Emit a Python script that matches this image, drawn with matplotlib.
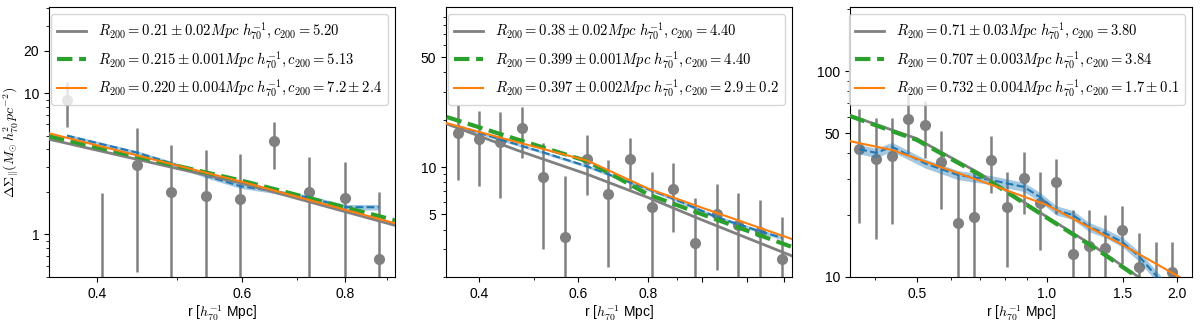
import matplotlib
matplotlib.use("Agg")
import matplotlib.pyplot as plt
from matplotlib.ticker import NullFormatter
import numpy as np

plt.rcParams['font.family'] = ['Liberation Sans', 'DejaVu Sans']
plt.rcParams['mathtext.fontset'] = 'cm'
plt.rcParams['font.size'] = 10

# ---- panel 1 ----
p1_r = [0.368, 0.406, 0.447, 0.492, 0.543, 0.597, 0.657, 0.724, 0.801, 0.879]
p1_y = [8.9, 0.3, 3.09, 1.99, 1.86, 1.77, 4.57, 1.99, 1.80, 0.665]
p1_err = [3.15, 1.65, 2.55, 2.29, 2.08, 1.92, 1.67, 1.53, 1.44, 1.32]
p1_blue_r = [0.368, 0.406, 0.447, 0.492, 0.543, 0.597, 0.657, 0.724, 0.801, 0.879]
p1_blue = [5.0, 4.35, 3.8, 3.2, 2.6, 2.2, 2.02, 1.82, 1.56, 1.56]
p1_blue_err = [0.15, 0.13, 0.12, 0.1, 0.09, 0.08, 0.07, 0.07, 0.07, 0.07]
p1_model_r = [0.35, 0.6, 0.92]
p1_gray = [4.72, 2.30, 1.16]
p1_green = [4.95, 2.40, 1.26]
p1_orange = [5.2, 2.36, 1.2]
p1_labels = [r'$R_{200} = 0.21 \pm 0.02 Mpc\ h_{70}^{-1}, c_{200} = 5.20$',
             r'$R_{200} = 0.215 \pm 0.001 Mpc\ h_{70}^{-1}, c_{200} = 5.13$',
             r'$R_{200} = 0.220 \pm 0.004 Mpc\ h_{70}^{-1}, c_{200} = 7.2 \pm 2.4$']

# ---- panel 2 ----
p2_r = [0.366, 0.400, 0.436, 0.477, 0.520, 0.569, 0.623, 0.679, 0.743, 0.813,
        0.887, 0.970, 1.061, 1.158, 1.268, 1.387]
p2_y = [16.5, 15.1, 14.4, 17.7, 8.6, 3.58, 11.3, 6.73, 11.3, 5.56,
        7.24, 3.28, 5.0, 4.27, 3.86, 2.59]
p2_err = [8.2, 7.5, 8.0, 6.3, 5.6, 5.2, 4.7, 4.4, 4.1, 3.7,
          3.4, 3.1, 2.8, 2.55, 2.3, 2.2]
p2_blue_r = [0.366, 0.436, 0.520, 0.623, 0.743, 0.887, 1.061, 1.268, 1.387]
p2_blue = [18.2, 15.0, 12.4, 10.1, 8.0, 6.3, 4.8, 3.9, 3.55]
p2_blue_err = [0.4, 0.3, 0.25, 0.22, 0.18, 0.15, 0.12, 0.1, 0.1]
p2_model_r = [0.35, 0.467, 0.623, 0.8, 1.0, 1.45]
p2_gray = [18.8, 12.8, 9.0, 6.4, 4.6, 2.71]
p2_green = [20.8, 15.0, 10.9, 6.7, 5.0, 3.09]
p2_orange = [19.0, 14.4, 11.0, 7.3, 5.5, 3.47]
p2_labels = [r'$R_{200} = 0.38 \pm 0.02 Mpc\ h_{70}^{-1}, c_{200} = 4.40$',
             r'$R_{200} = 0.399 \pm 0.001 Mpc\ h_{70}^{-1}, c_{200} = 4.40$',
             r'$R_{200} = 0.397 \pm 0.002 Mpc\ h_{70}^{-1}, c_{200} = 2.9 \pm 0.2$']

# ---- panel 3 ----
p3_r = [0.368, 0.402, 0.438, 0.478, 0.523, 0.570, 0.623, 0.679, 0.742, 0.809,
        0.885, 0.963, 1.052, 1.151, 1.253, 1.367, 1.496, 1.636, 1.788, 1.954]
p3_y = [41.8, 37.3, 38.6, 58.5, 54.7, 36.3, 18.2, 19.6, 37.0, 21.8,
        30.3, 22.9, 28.8, 12.9, 14.2, 13.9, 16.9, 11.2, 8.5, 10.6]
p3_err = [23.5, 22.0, 20.5, 19.0, 17.0, 15.0, 14.0, 12.5, 11.5, 10.6,
          10.0, 9.4, 8.6, 8.2, 6.9, 6.1, 5.3, 5.1, 6.3, 4.2]
p3_blue_r = [0.368, 0.402, 0.438, 0.523, 0.623, 0.742, 0.885, 0.963, 1.052,
             1.151, 1.253, 1.367, 1.496, 1.636, 1.788, 1.954]
p3_blue = [41.8, 40.1, 42.9, 35.6, 31.3, 29.6, 27.4, 24.5, 21.1,
           20.0, 17.5, 16.3, 14.8, 12.6, 10.2, 8.2]
p3_blue_err = [2.2, 2.1, 2.2, 1.8, 1.6, 1.5, 1.4, 1.3, 1.1,
               1.0, 0.9, 0.8, 0.8, 0.7, 0.6, 0.5]
p3_model_r = [0.35, 0.5, 0.7, 1.0, 1.3, 1.62, 2.2]
p3_gray = [61.0, 47.0, 31.8, 19.6, 13.9, 10.1, 6.6]
p3_green = [60.5, 46.3, 31.3, 19.4, 13.7, 10.0, 6.5]
p3_orange_r = [0.35, 0.438, 0.725, 1.0, 1.5, 2.03, 2.2]
p3_orange = [45.7, 41.4, 28.6, 22.4, 14.3, 10.0, 9.2]
p3_labels = [r'$R_{200} = 0.71 \pm 0.03 Mpc\ h_{70}^{-1}, c_{200} = 3.80$',
             r'$R_{200} = 0.707 \pm 0.003 Mpc\ h_{70}^{-1}, c_{200} = 3.84$',
             r'$R_{200} = 0.732 \pm 0.004 Mpc\ h_{70}^{-1}, c_{200} = 1.7 \pm 0.1$']


def draw_panel(ax, r, y, err, br, b, berr, mr, g, gr, o_r, o, labels):
    ax.errorbar(r, y, yerr=err, fmt='o', color='gray', ms=7,
                elinewidth=1.8, capsize=0, zorder=2)
    b = np.array(b)
    berr = np.array(berr)
    ax.fill_between(br, b - berr, b + berr, color='tab:blue', alpha=0.4,
                    lw=0, zorder=3)
    ax.plot(br, b, '--', color='tab:blue', lw=1.5, zorder=3)
    l1, = ax.plot(mr, gr, '-', color='gray', lw=2, zorder=4)
    l2, = ax.plot(mr, g, '--', color='tab:green', lw=3, zorder=4)
    l3, = ax.plot(o_r, o, '-', color='tab:orange', lw=1.5, zorder=5)
    ax.set_xscale('log')
    ax.set_yscale('log')
    ax.legend([l1, l2, l3], labels, loc='upper right', fontsize=10.5)
    ax.set_xlabel(r'r [$h_{70}^{-1}$ Mpc]', fontsize=10, labelpad=2)
    ax.tick_params(labelsize=10)
    ax.xaxis.set_minor_formatter(NullFormatter())
    ax.yaxis.set_minor_formatter(NullFormatter())


fig = plt.figure(figsize=(12, 3.23), dpi=100)
H = 323.0
ax1 = fig.add_axes([49 / 1200, 1 - 277 / H, 346 / 1200, 270 / H])
ax2 = fig.add_axes([446 / 1200, 1 - 277 / H, 346 / 1200, 270 / H])
ax3 = fig.add_axes([850 / 1200, 1 - 277 / H, 342 / 1200, 270 / H])

draw_panel(ax1, p1_r, p1_y, p1_err, p1_blue_r, p1_blue, p1_blue_err,
           p1_model_r, p1_green, p1_gray, p1_model_r, p1_orange, p1_labels)
ax1.set_xlim(0.35, 0.92)
ax1.set_ylim(0.5, 40.7)
ax1.set_xticks([0.4, 0.6, 0.8])
ax1.set_xticklabels(['0.4', '0.6', '0.8'])
ax1.set_yticks([1, 10, 20])
ax1.set_yticklabels(['1', '10', '20'])
ax1.set_ylabel(r'$\Delta\Sigma_{\|}(M_{\odot}\,h_{70}^{2}\,pc^{-2})$',
               fontsize=10, labelpad=2)

draw_panel(ax2, p2_r, p2_y, p2_err, p2_blue_r, p2_blue, p2_blue_err,
           p2_model_r, p2_green, p2_gray, p2_model_r, p2_orange, p2_labels)
ax2.set_xlim(0.349, 1.445)
ax2.set_ylim(2.0, 104)
ax2.set_xticks([0.4, 0.6, 0.8, 1.0, 1.2, 1.4])
ax2.set_xticklabels(['0.4', '0.6', '0.8', '', '', ''])
ax2.set_yticks([5, 10, 50])
ax2.set_yticklabels(['5', '10', '50'])

draw_panel(ax3, p3_r, p3_y, p3_err, p3_blue_r, p3_blue, p3_blue_err,
           p3_model_r, p3_green, p3_gray, p3_orange_r, p3_orange, p3_labels)
ax3.set_xlim(0.35, 2.17)
ax3.set_ylim(10, 205)
ax3.set_xticks([0.5, 1.0, 1.5, 2.0])
ax3.set_xticklabels(['0.5', '1.0', '1.5', '2.0'])
ax3.set_yticks([10, 50, 100])
ax3.set_yticklabels(['10', '50', '100'])

fig.savefig('out.png', dpi=100)
